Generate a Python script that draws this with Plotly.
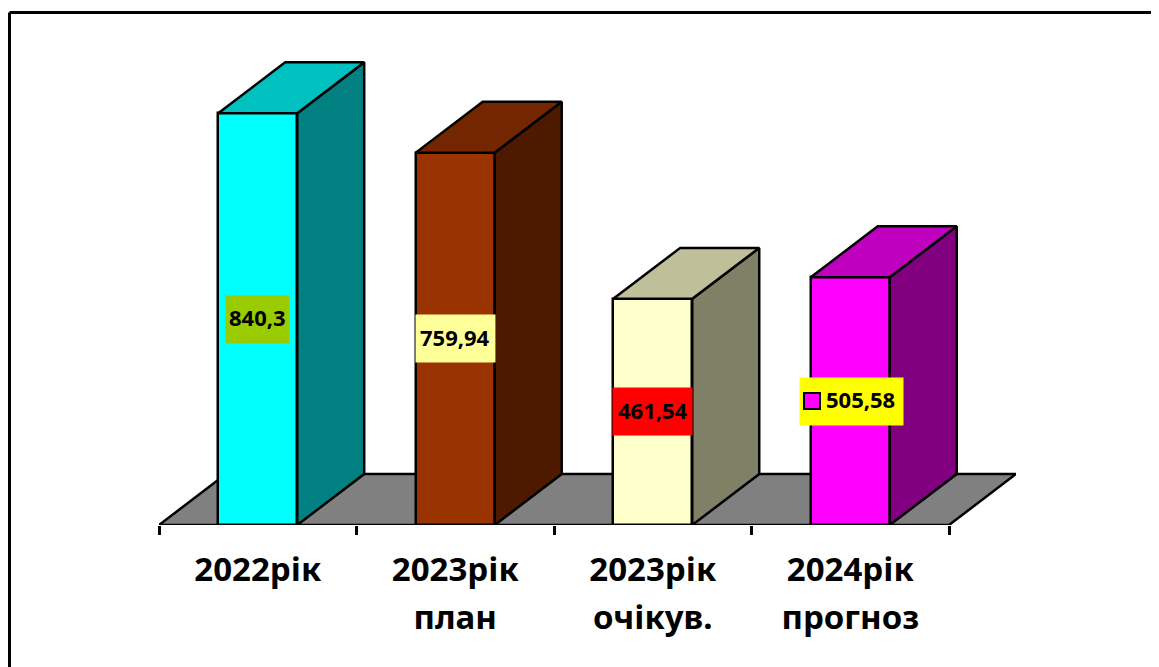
import plotly.graph_objects as go

year_labels = ["2022рік", "2023рік", "2023рік", "2024рік"]
sub_labels = ["", "план", "очікув.", "прогноз"]
values = [840.3, 759.94, 461.54, 505.58]
value_labels = ["840,3", "759,94", "461,54", "505,58"]
front_colors = ["#00FFFF", "#993300", "#FFFFCC", "#FF00FF"]
side_colors = ["#008080", "#4D1A00", "#808066", "#800080"]
top_colors = ["#00C0C0", "#732600", "#BFBF99", "#BF00BF"]
label_colors = ["#99CC00", "#FFFF99", "#FF0000", "#FFFF00"]

SPAN = "<span style='font-size:33px'>%s</span>"
categories = [SPAN % y + ("<br>" + SPAN % s if s else "") for y, s in zip(year_labels, sub_labels)]

FONT = "Noto Sans"
BAR_W = 0.4
DX = 0.339   # depth offset, category units
DY = 104.0   # depth offset, value units
XR = [-0.5, 3.839]
YR = [0, 1010.2]
n = len(values)
pos = list(range(n))
LINE = dict(color="black", width=2.5)

fig = go.Figure()
fig.add_trace(go.Bar(x=categories, y=values, width=BAR_W, marker=dict(color=front_colors, line=LINE),
                     showlegend=False, hoverinfo="skip"))

for i, v in zip(pos, values):
    l, r = i - BAR_W / 2, i + BAR_W / 2
    fig.add_trace(go.Scatter(x=[r, r + DX, r + DX, r, r], y=[0, DY, v + DY, v, 0], xaxis="x2", mode="lines",
                             fill="toself", fillcolor=side_colors[i], line=LINE, cliponaxis=False,
                             showlegend=False, hoverinfo="skip"))
    fig.add_trace(go.Scatter(x=[l, l + DX, r + DX, r, l], y=[v, v + DY, v + DY, v, v], xaxis="x2", mode="lines",
                             fill="toself", fillcolor=top_colors[i], line=LINE, cliponaxis=False,
                             showlegend=False, hoverinfo="skip"))

annotations = []
for i, v in zip(pos, values):
    keyed = i == n - 1
    annotations.append(dict(x=i, y=v / 2, xref="x2", yref="y", text=" ",
                            showarrow=False, bgcolor=label_colors[i], width=103 if keyed else (63 if i == 0 else 79),
                            height=47, borderpad=0, xshift=1 if keyed else 0,
                            font=dict(family=FONT, size=22, color="black")))
    annotations.append(dict(x=i, y=v / 2, xref="x2", yref="y", text="<b>%s</b>" % value_labels[i],
                            showarrow=False, xshift=10 if keyed else 0, yshift=2,
                            font=dict(family=FONT, size=22, color="black")))
annotations.append(dict(x=n - 1, y=values[-1] / 2, xref="x2", yref="y", text=" ", showarrow=False,
                        bgcolor=front_colors[-1], bordercolor="black", borderwidth=2, borderpad=0,
                        width=14, height=14, xshift=-38, font=dict(size=8)))

floor = "M -0.5 0 L 3.5 0 L %f %f L %f %f Z" % (3.5 + DX, DY, -0.5 + DX, DY)
# the page's body margin offsets the figure by 8 px
W, H = 1151, 659
L, R, T, B = 151, 143, 22, 142
pw, ph = W - L - R, H - T - B
bx, by = (1.5 - L) / pw, (H - B - 4.5) / ph
shapes = [
    dict(type="path", path=floor, xref="x2", yref="y", fillcolor="#808080", line=LINE, layer="below"),
    dict(type="line", xref="paper", yref="paper", x0=bx, x1=bx, y0=-B / ph, y1=by, line=dict(color="black", width=3)),
    dict(type="line", xref="paper", yref="paper", x0=bx, x1=(W - L) / pw, y0=by, y1=by, line=dict(color="black", width=3)),
]

fig.update_layout(
    width=W, height=H, margin=dict(l=L, r=R, t=T, b=B, pad=0, autoexpand=False),
    paper_bgcolor="white", plot_bgcolor="rgba(0,0,0,0)", showlegend=False, bargap=0,
    annotations=annotations, shapes=shapes,
    xaxis=dict(type="category", range=XR, tickson="boundaries", ticks="outside", ticklen=9, tickwidth=2.5, tickcolor="black",
               showgrid=False, zeroline=False, showline=False, tickangle=0, ticklabelstandoff=18,
               tickfont=dict(family=FONT, size=37, color="black", weight="bold")),
    xaxis2=dict(overlaying="x", range=XR, visible=False, type="linear"),
    yaxis=dict(range=YR, visible=False, showgrid=False, zeroline=False),
)
fig.write_html("out.html")
